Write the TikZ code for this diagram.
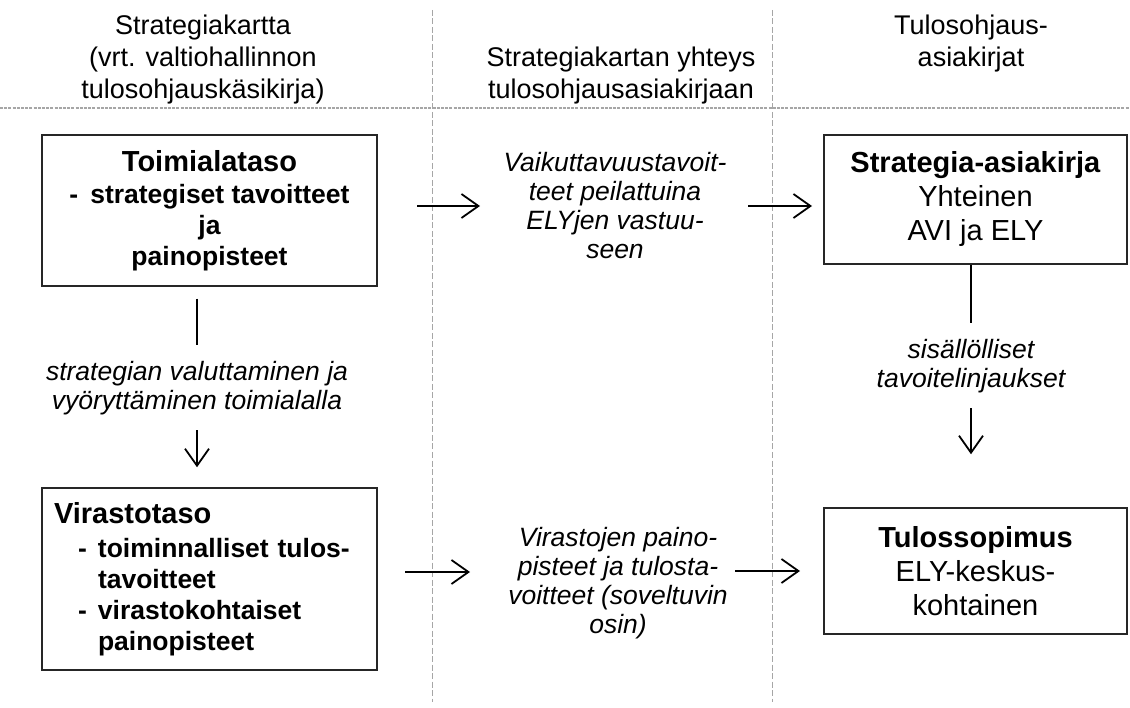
\documentclass[tikz,border=0pt]{standalone}
\usepackage{fontspec}
\setmainfont{Liberation Sans}
\usetikzlibrary{arrows.meta}
\begin{document}
\begin{tikzpicture}[x=1pt,y=-1pt,
  box/.style={draw=black!85, line width=1.5pt, inner sep=0pt},
  vsep/.style={draw=black!35, line width=1pt, dash pattern=on 6pt off 2.5pt},
  hsep/.style={draw=black!35, line width=1.4pt, dash pattern=on 3pt off 1.2pt},
  conn/.style={line width=1.8pt},
  arr/.style={line width=1.8pt, -{Straight Barb[length=17pt,width=24pt,line width=1.8pt]}},
  lbl/.style={font=\fontsize{26.5}{29}\selectfont\itshape, align=center, inner sep=3pt},
  hdr/.style={font=\fontsize{27}{32}\selectfont, align=center, inner sep=0pt}]
\useasboundingbox (0,0) rectangle (1130,708);

% column separators
\draw[vsep] (432,10) -- (432,702);
\draw[vsep] (772,10) -- (772,702);
\draw[hsep] (0,108) -- (1130,108);

% headers
\node[hdr] (h1) at (203,60) {Strategiakartta\\(vrt. valtiohallinnon\\tulosohjauskäsikirja)};
\node[hdr] (h2) at (621,76) {Strategiakartan yhteys\\tulosohjausasiakirjaan};
\node[hdr] (h3) at (971,44) {Tulosohjaus-\\asiakirjat};

% boxes
\node[box, minimum width=335pt, minimum height=151pt, align=center,
      font=\fontsize{26.5}{31}\selectfont\bfseries] (b1) at (209.5,210.5)
  {{\fontsize{29}{31}\selectfont Toimialataso}\\[1pt]
   -\hspace{12pt}strategiset tavoitteet\\ ja\\ painopisteet};

\node[box, minimum width=335pt, minimum height=182pt, align=left, text width=311pt,
      font=\fontsize{26.5}{29.5}\selectfont\bfseries] (b3) at (209.5,579)
  {{\fontsize{29}{31}\selectfont Virastotaso}\\[5pt]
   \hspace*{24pt}\makebox[20pt][l]{-}toiminnalliset tulos-\\[1pt]
   \hspace*{44pt}tavoitteet\\[2pt]
   \hspace*{24pt}\makebox[20pt][l]{-}virastokohtaiset\\[1pt]
   \hspace*{44pt}painopisteet};

\node[box, minimum width=303pt, minimum height=129pt, align=center,
      font=\fontsize{29}{34}\selectfont] (b2) at (975.5,199.5)
  {\textbf{Strategia-asiakirja}\\ Yhteinen\\ AVI ja ELY};

\node[box, minimum width=303pt, minimum height=126pt, align=center,
      font=\fontsize{29}{34}\selectfont] (b4) at (975.5,571)
  {\textbf{Tulossopimus}\\ ELY-keskus-\\ kohtainen};

% labels
\node[lbl] (l1) at (615,206) {Vaikuttavuustavoit-\\teet peilattuina\\ELYjen vastuu-\\seen};
\node[lbl] (l2) at (618,583) {Virastojen paino-\\pisteet ja tulosta-\\voitteet (soveltuvin\\osin)};
\node[lbl] (l3) at (197,388) {strategian valuttaminen ja\\vyöryttäminen toimialalla};
\node[lbl] (l4) at (971,366) {sisällölliset\\tavoitelinjaukset};

% arrow end points
\coordinate (a1s) at (417,206);
\coordinate (a1e) at (480,206);
\coordinate (a2s) at (748,206);
\coordinate (a2e) at (812,206);
\coordinate (a3s) at (405,572);
\coordinate (a3e) at (470,572);
\coordinate (a4s) at (735,571);
\coordinate (a4e) at (800,571);

% connectors
\draw[arr] (a1s) -- (a1e);
\draw[arr] (a2s) -- (a2e);
\draw[arr] (a3s) -- (a3e);
\draw[arr] (a4s) -- (a4e);

\draw[conn, shorten <=12pt, shorten >=13pt] (b1.south -| l3.north) -- (l3.north);
\draw[arr, shorten <=12pt, shorten >=20pt] (l3.south) -- (b3.north -| l3.south);

\draw[conn, shorten >=13pt] (b2.south -| l4.north) -- (l4.north);
\draw[arr, shorten <=12pt, shorten >=53pt] (l4.south) -- (b4.north -| l4.south);
\end{tikzpicture}
\end{document}
